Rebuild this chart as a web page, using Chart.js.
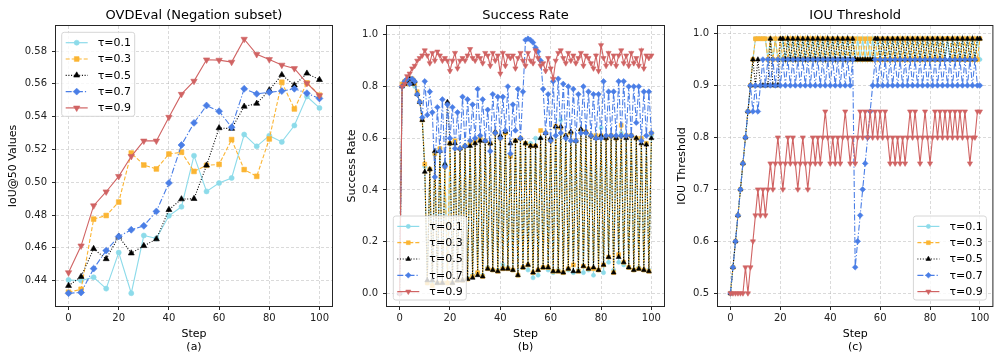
<!DOCTYPE html>
<html><head><meta charset="utf-8">
<script src="https://cdn.jsdelivr.net/npm/chart.js@4.4.1/dist/chart.umd.min.js"></script>
<style>
html,body{margin:0;padding:0;background:#fff;}
#wrap{position:relative;width:997px;height:353px;background:#fff;}
canvas{position:absolute;left:0;top:0;}
</style></head><body>
<div id="wrap">
<canvas id="cA" width="997" height="353"></canvas>
<canvas id="cB" width="997" height="353"></canvas>
<canvas id="cC" width="997" height="353"></canvas>
</div>
<script>
// ---------------- DATA ----------------
const seriesLabels = ['τ=0.1','τ=0.3','τ=0.5','τ=0.7','τ=0.9'];

// Panel (a): OVDEval (Negation subset), IoU@50 vs step
const stepsA = [0,5,10,15,20,25,30,35,40,45,50,55,60,65,70,75,80,85,90,95,100];
const iouT01 = [0.4404,0.4400,0.4420,0.4351,0.4571,0.4323,0.4675,0.4657,0.4795,0.4850,0.5162,0.4944,0.4995,0.5026,0.5291,0.5219,0.5284,0.5246,0.5346,0.5523,0.5453];
const iouT03 = [0.4329,0.4347,0.4775,0.4797,0.4879,0.5178,0.5105,0.5081,0.5172,0.5183,0.5066,0.5103,0.5109,0.5260,0.5077,0.5036,0.5264,0.5610,0.5447,0.5606,0.5531];
const iouT05 = [0.4369,0.4424,0.4594,0.4532,0.4669,0.4567,0.4612,0.4653,0.4832,0.4897,0.4899,0.5103,0.5331,0.5327,0.5462,0.5480,0.5562,0.5655,0.5592,0.5664,0.5625];
const iouT07 = [0.4323,0.4327,0.4473,0.4583,0.4669,0.4710,0.4734,0.4822,0.4995,0.5227,0.5362,0.5468,0.5433,0.5335,0.5570,0.5539,0.5549,0.5556,0.5570,0.5543,0.5511];
const iouT09 = [0.4449,0.4612,0.4857,0.4942,0.5036,0.5158,0.5252,0.5252,0.5397,0.5537,0.5617,0.5747,0.5745,0.5733,0.5873,0.5780,0.5749,0.5715,0.5694,0.5604,0.5529];

// Panels (b) and (c): per-step values
const stepsBC = [0,1,2,3,4,5,6,7,8,9,10,11,12,13,14,15,16,17,18,19,20,21,22,23,24,25,26,27,28,29,30,31,32,33,34,35,36,37,38,39,40,41,42,43,44,45,46,47,48,49,50,51,52,53,54,55,56,57,58,59,60,61,62,63,64,65,66,67,68,69,70,71,72,73,74,75,76,77,78,79,80,81,82,83,84,85,86,87,88,89,90,91,92,93,94,95,96,97,98,99,100];

const succT01 = [0,0.80,0.82,0.82,0.83,0.82,0.80,0.77,0.74,0.68,
 0.49,0.04,0.48,0.04,0.54,0.04,0.56,0.04,0.50,0.04,
 0.58,0.04,0.59,0.05,0.56,0.05,0.57,0.06,0.58,0.07,
 0.59,0.08,0.60,0.07,0.59,0.10,0.58,0.09,0.62,0.09,
 0.60,0.11,0.62,0.10,0.53,0.09,0.59,0.07,0.60,0.10,
 0.58,0.09,0.58,0.06,0.60,0.07,0.60,0.10,0.62,0.09,
 0.59,0.08,0.64,0.09,0.67,0.08,0.61,0.09,0.62,0.08,
 0.59,0.09,0.63,0.08,0.62,0.09,0.61,0.07,0.61,0.09,
 0.64,0.08,0.60,0.12,0.61,0.09,0.60,0.12,0.62,0.11,
 0.61,0.10,0.61,0.09,0.60,0.10,0.60,0.09,0.58,0.09,
 0.61];
const succT03 = [0,0.81,0.82,0.81,0.82,0.83,0.81,0.78,0.74,0.67,
 0.50,0.04,0.48,0.03,0.54,0.04,0.56,0.04,0.49,0.04,
 0.58,0.04,0.59,0.05,0.56,0.05,0.57,0.055,0.58,0.065,
 0.59,0.08,0.60,0.065,0.59,0.095,0.58,0.09,0.62,0.085,
 0.60,0.095,0.62,0.095,0.53,0.09,0.59,0.07,0.60,0.10,
 0.58,0.11,0.57,0.08,0.57,0.09,0.63,0.10,0.62,0.10,
 0.59,0.085,0.645,0.085,0.64,0.08,0.61,0.095,0.62,0.11,
 0.59,0.085,0.63,0.105,0.625,0.095,0.61,0.095,0.61,0.09,
 0.61,0.11,0.60,0.14,0.61,0.08,0.60,0.15,0.65,0.12,
 0.61,0.10,0.61,0.09,0.60,0.095,0.60,0.09,0.58,0.085,
 0.62];
const succT05 = [0,0.80,0.81,0.82,0.83,0.81,0.82,0.77,0.74,0.67,
 0.47,0.05,0.48,0.05,0.55,0.04,0.55,0.04,0.50,0.74,
 0.58,0.04,0.58,0.05,0.56,0.05,0.57,0.055,0.57,0.06,
 0.58,0.07,0.59,0.065,0.59,0.095,0.58,0.09,0.625,0.085,
 0.61,0.095,0.625,0.095,0.58,0.09,0.59,0.07,0.60,0.10,
 0.58,0.11,0.57,0.08,0.57,0.09,0.60,0.10,0.62,0.10,
 0.60,0.085,0.645,0.085,0.645,0.08,0.61,0.095,0.625,0.085,
 0.59,0.085,0.635,0.105,0.625,0.095,0.61,0.10,0.60,0.09,
 0.61,0.11,0.60,0.14,0.61,0.08,0.60,0.14,0.61,0.12,
 0.60,0.10,0.61,0.09,0.60,0.095,0.58,0.09,0.575,0.085,
 0.60];
const succT07 = [0,0.80,0.82,0.83,0.81,0.83,0.82,0.77,0.74,0.68,
 0.82,0.69,0.78,0.70,0.45,0.72,0.55,0.75,0.49,0.73,
 0.60,0.72,0.56,0.70,0.56,0.76,0.57,0.75,0.59,0.73,
 0.60,0.79,0.61,0.75,0.59,0.71,0.55,0.77,0.62,0.76,
 0.60,0.76,0.63,0.80,0.54,0.73,0.63,0.79,0.60,0.78,
 0.98,0.985,0.98,0.97,0.95,0.935,0.90,0.79,0.62,0.77,
 0.59,0.82,0.61,0.83,0.62,0.81,0.60,0.80,0.59,0.79,
 0.59,0.77,0.62,0.80,0.62,0.78,0.61,0.77,0.60,0.77,
 0.60,0.82,0.61,0.78,0.61,0.78,0.61,0.82,0.61,0.82,
 0.61,0.80,0.61,0.80,0.66,0.80,0.59,0.78,0.61,0.78,
 0.62];
const succT09 = [0,0.80,0.81,0.84,0.85,0.87,0.88,0.90,0.91,0.92,
 0.94,0.92,0.89,0.93,0.90,0.935,0.92,0.90,0.91,0.90,
 0.86,0.90,0.93,0.87,0.90,0.91,0.90,0.92,0.945,0.91,
 0.90,0.92,0.91,0.89,0.93,0.92,0.88,0.93,0.90,0.92,
 0.85,0.93,0.88,0.92,0.91,0.92,0.87,0.91,0.93,0.90,
 0.88,0.93,0.90,0.89,0.94,0.91,0.88,0.89,0.86,0.91,
 0.87,0.83,0.90,0.93,0.94,0.91,0.89,0.93,0.90,0.92,
 0.89,0.91,0.93,0.88,0.92,0.91,0.89,0.87,0.92,0.86,
 0.96,0.91,0.88,0.93,0.89,0.92,0.88,0.92,0.94,0.89,
 0.92,0.88,0.93,0.89,0.91,0.88,0.94,0.87,0.92,0.91,
 0.92];

const thrT01 = [0.50,0.55,0.60,0.65,0.70,0.75,0.80,0.85,0.90,0.95,
 0.99,0.99,0.99,0.99,0.99,0.95,0.99,0.95,0.99,0.95,
 0.95,0.99,0.95,0.99,0.95,0.99,0.95,0.99,0.95,0.99,
 0.95,0.99,0.95,0.99,0.95,0.99,0.95,0.99,0.95,0.99,
 0.95,0.99,0.95,0.99,0.95,0.99,0.95,0.99,0.95,0.99,
 0.95,0.99,0.95,0.99,0.95,0.99,0.95,0.99,0.95,0.99,
 0.95,0.99,0.95,0.99,0.95,0.99,0.95,0.99,0.95,0.99,
 0.95,0.99,0.95,0.99,0.95,0.99,0.95,0.99,0.95,0.99,
 0.95,0.99,0.95,0.99,0.95,0.99,0.95,0.99,0.95,0.99,
 0.95,0.99,0.95,0.99,0.95,0.99,0.95,0.99,0.95,0.99,
 0.95];
const thrT03 = [0.50,0.55,0.60,0.65,0.70,0.75,0.80,0.85,0.90,0.95,
 0.99,0.99,0.99,0.99,0.99,0.95,0.99,0.95,0.99,0.95,
 0.99,0.95,0.99,0.95,0.99,0.95,0.99,0.95,0.99,0.95,
 0.99,0.95,0.99,0.95,0.99,0.95,0.99,0.95,0.99,0.95,
 0.99,0.95,0.99,0.95,0.99,0.95,0.99,0.95,0.99,0.95,
 0.99,0.95,0.99,0.95,0.99,0.95,0.99,0.95,0.99,0.95,
 0.99,0.95,0.99,0.95,0.99,0.95,0.99,0.95,0.99,0.95,
 0.99,0.95,0.99,0.95,0.99,0.95,0.99,0.95,0.99,0.95,
 0.99,0.95,0.99,0.95,0.99,0.95,0.99,0.99,0.99,0.95,
 0.99,0.95,0.99,0.95,0.99,0.95,0.99,0.95,0.99,0.95,
 0.99];
const thrT05 = [0.50,0.55,0.60,0.65,0.70,0.75,0.80,0.85,0.90,0.95,
 0.90,0.95,0.90,0.90,0.90,0.90,0.99,0.90,0.90,0.90,
 0.99,0.99,0.95,0.99,0.95,0.99,0.95,0.99,0.95,0.99,
 0.95,0.99,0.95,0.99,0.95,0.99,0.95,0.99,0.95,0.99,
 0.95,0.99,0.95,0.99,0.95,0.99,0.95,0.99,0.95,0.99,
 0.95,0.95,0.95,0.95,0.95,0.95,0.95,0.95,0.99,0.99,
 0.95,0.99,0.95,0.99,0.95,0.99,0.95,0.99,0.95,0.99,
 0.95,0.99,0.95,0.99,0.95,0.99,0.95,0.99,0.95,0.99,
 0.95,0.99,0.95,0.99,0.95,0.99,0.95,0.99,0.95,0.99,
 0.95,0.99,0.95,0.99,0.95,0.99,0.95,0.99,0.95,0.99,
 0.99];
const thrT07 = [0.50,0.55,0.60,0.65,0.70,0.75,0.80,0.85,0.90,0.85,
 0.90,0.85,0.90,0.95,0.90,0.95,0.90,0.95,0.90,0.95,
 0.90,0.95,0.90,0.95,0.90,0.95,0.90,0.95,0.90,0.95,
 0.90,0.95,0.90,0.95,0.90,0.95,0.90,0.95,0.90,0.95,
 0.90,0.95,0.90,0.95,0.90,0.95,0.90,0.95,0.90,0.95,
 0.55,0.60,0.65,0.70,0.75,0.80,0.85,0.90,0.95,0.90,
 0.95,0.90,0.95,0.90,0.95,0.90,0.95,0.90,0.95,0.90,
 0.95,0.90,0.95,0.90,0.95,0.90,0.95,0.90,0.95,0.90,
 0.95,0.90,0.95,0.90,0.95,0.90,0.95,0.90,0.95,0.90,
 0.95,0.90,0.95,0.90,0.95,0.90,0.95,0.90,0.95,0.90,
 0.90];
const thrT09 = [0.50,0.50,0.50,0.50,0.50,0.50,0.55,0.50,0.55,0.60,
 0.65,0.70,0.65,0.70,0.65,0.70,0.75,0.70,0.75,0.80,
 0.75,0.70,0.75,0.80,0.75,0.80,0.75,0.70,0.75,0.80,
 0.75,0.70,0.75,0.80,0.75,0.80,0.75,0.80,0.85,0.80,
 0.75,0.80,0.75,0.80,0.75,0.80,0.85,0.80,0.75,0.80,
 0.75,0.80,0.85,0.80,0.85,0.80,0.85,0.80,0.85,0.80,
 0.85,0.80,0.85,0.80,0.75,0.80,0.75,0.80,0.75,0.80,
 0.75,0.80,0.85,0.80,0.85,0.80,0.75,0.80,0.85,0.80,
 0.75,0.80,0.85,0.80,0.85,0.80,0.85,0.80,0.85,0.80,
 0.85,0.80,0.85,0.80,0.85,0.80,0.75,0.80,0.80,0.85,
 0.85];

const xTicks = [0,20,40,60,80,100];
const xTickLabels = ['0','20','40','60','80','100'];
const yTicksA = [0.44,0.46,0.48,0.50,0.52,0.54,0.56,0.58];
const yTickLabelsA = ['0.44','0.46','0.48','0.50','0.52','0.54','0.56','0.58'];
const yTicksB = [0,0.2,0.4,0.6,0.8,1.0];
const yTickLabelsB = ['0.0','0.2','0.4','0.6','0.8','1.0'];
const yTicksC = [0.5,0.6,0.7,0.8,0.9,1.0];
const yTickLabelsC = ['0.5','0.6','0.7','0.8','0.9','1.0'];

// ---------------- STYLE ----------------
const FONT = 'DejaVu Sans';
const STY = [
  {color:'#8ddbea', dash:[],            point:'circle',   r:2.4, rot:0},
  {color:'#fbb533', dash:[4,2],         point:'rect',     r:3.2, rot:0},
  {color:'#000000', dash:[1,1.7],       point:'triangle', r:3.3, rot:0},
  {color:'#4a7ee6', dash:[6,2,1.2,2],   point:'rectRot',  r:3.3, rot:0},
  {color:'#d06363', dash:[],            point:'triangle', r:3.5, rot:180}
];

function drawMarker(ctx, s, x, y, k) {
  const r = s.r * k;
  ctx.save();
  ctx.setLineDash([]);
  ctx.fillStyle = s.color; ctx.strokeStyle = s.color; ctx.lineWidth = 0.6;
  ctx.beginPath();
  if (s.point === 'circle') { ctx.arc(x, y, r, 0, Math.PI*2); }
  else if (s.point === 'rect') { const h = r*Math.SQRT1_2; ctx.rect(x-h, y-h, 2*h, 2*h); }
  else if (s.point === 'rectRot') { ctx.moveTo(x, y-r); ctx.lineTo(x+r, y); ctx.lineTo(x, y+r); ctx.lineTo(x-r, y); ctx.closePath(); }
  else if (s.point === 'triangle') {
    let a = (s.rot*Math.PI/180) - Math.PI/2;
    for (let i=0;i<3;i++){ const px=x+Math.cos(a)*r, py=y+Math.sin(a)*r; if(i===0) ctx.moveTo(px,py); else ctx.lineTo(px,py); a += 2*Math.PI/3; }
    ctx.closePath();
  }
  ctx.fill(); ctx.stroke();
  ctx.restore();
}

const decoPlugin = {
  id: 'deco',
  afterDatasetsDraw(chart, args, opts) {
    const ctx = chart.ctx, ca = chart.chartArea;
    ctx.save();
    // frame
    ctx.setLineDash([]);
    ctx.strokeStyle = '#262626'; ctx.lineWidth = 1;
    ctx.strokeRect(ca.left - 0.5, ca.top - 0.5, ca.right - ca.left + 1, ca.bottom - ca.top + 1);
    // title
    ctx.fillStyle = '#000'; ctx.font = '13px "' + FONT + '"';
    ctx.textAlign = 'center'; ctx.textBaseline = 'middle';
    ctx.fillText(opts.title, (ca.left + ca.right)/2, 15.5);
    // legend
    const w = 73, h = 84;
    let lx, ly;
    if (opts.corner === 'tl') { lx = ca.left + opts.dx; ly = ca.top + opts.dy; }
    else if (opts.corner === 'bl') { lx = ca.left + opts.dx; ly = ca.bottom - opts.dy - h; }
    else { lx = ca.right - opts.dx - w; ly = ca.bottom - opts.dy - h; }
    ctx.beginPath();
    const rr = 2.5;
    ctx.moveTo(lx+rr, ly); ctx.lineTo(lx+w-rr, ly); ctx.quadraticCurveTo(lx+w, ly, lx+w, ly+rr);
    ctx.lineTo(lx+w, ly+h-rr); ctx.quadraticCurveTo(lx+w, ly+h, lx+w-rr, ly+h);
    ctx.lineTo(lx+rr, ly+h); ctx.quadraticCurveTo(lx, ly+h, lx, ly+h-rr);
    ctx.lineTo(lx, ly+rr); ctx.quadraticCurveTo(lx, ly, lx+rr, ly); ctx.closePath();
    ctx.fillStyle = 'rgba(255,255,255,0.8)'; ctx.fill();
    ctx.strokeStyle = '#d6d6d6'; ctx.lineWidth = 1; ctx.stroke();
    chart.data.datasets.forEach((ds, i) => {
      const s = STY[i];
      const y = ly + 10.4 + i*16.3;
      ctx.save();
      ctx.strokeStyle = s.color; ctx.lineWidth = 1.2; ctx.setLineDash(s.dash);
      ctx.beginPath(); ctx.moveTo(lx+4, y); ctx.lineTo(lx+26, y); ctx.stroke();
      ctx.restore();
      drawMarker(ctx, s, lx+15, y, opts.mk);
      ctx.fillStyle = '#000'; ctx.font = '11px "' + FONT + '"';
      ctx.textAlign = 'left'; ctx.textBaseline = 'middle';
      ctx.fillText(ds.label, lx+36, y + 0.5);
    });
    ctx.restore();
  }
};

function buildChart(id, p) {
  const datasets = p.series.map((arr, i) => ({
    label: seriesLabels[i],
    data: arr.map((v, j) => ({x: p.xs[j], y: v})),
    borderColor: STY[i].color,
    backgroundColor: STY[i].color,
    borderWidth: 1.1,
    borderDash: STY[i].dash,
    pointStyle: STY[i].point,
    pointRadius: STY[i].r * p.mk,
    pointRotation: STY[i].rot,
    pointBackgroundColor: STY[i].color,
    pointBorderColor: STY[i].color,
    pointBorderWidth: 0.6,
    tension: 0,
    fill: false,
    order: 4 - i
  }));
  const tickFont = {family: FONT, size: 10};
  const gridCommon = {color: 'rgba(170,170,170,0.55)', lineWidth: 0.8, tickColor: '#262626', tickLength: 4, tickWidth: 1, tickBorderDash: []};
  return new Chart(document.getElementById(id), {
    type: 'line',
    data: {datasets},
    options: {
      responsive: false, animation: false, devicePixelRatio: 1,
      layout: {padding: {left: p.padL, right: p.padR, top: 26, bottom: 0}},
      plugins: {legend: {display: false}, tooltip: {enabled: false}, title: {display: false},
        deco: {title: p.title, corner: p.corner, dx: p.ldx, dy: p.ldy, mk: p.mk}},
      scales: {
        x: {
          type: 'linear', min: -5, max: 105,
          afterBuildTicks: s => { s.ticks = xTicks.map(v => ({value: v})); },
          afterFit: s => { s.height = 47; },
          ticks: {font: tickFont, color: '#222', padding: 2, maxRotation: 0, autoSkip: false,
                  callback: (v, i) => xTickLabels[i]},
          grid: gridCommon,
          border: {display: false, dash: [3, 2]},
          title: {display: true, text: ['Step', p.sub], font: {family: FONT, size: 11, lineHeight: 1.15}, color: '#000', padding: {top: 0, bottom: 0}}
        },
        y: {
          type: 'linear', min: p.ymin, max: p.ymax,
          afterBuildTicks: s => { s.ticks = p.yTicks.map(v => ({value: v})); },
          afterFit: s => { s.width = p.yW; },
          ticks: {font: tickFont, color: '#222', padding: 5, autoSkip: false,
                  callback: (v, i) => p.yLabels[i]},
          grid: gridCommon,
          border: {display: false, dash: [3, 2]},
          title: {display: true, text: p.ylabel, font: {family: FONT, size: 11, lineHeight: 1.2}, color: '#000', padding: {top: p.yTitlePad, bottom: 0}}
        }
      }
    },
    plugins: [decoPlugin]
  });
}

buildChart('cA', {
  xs: stepsA, series: [iouT01, iouT03, iouT05, iouT07, iouT09],
  padL: 0, padR: 665, yW: 56, yTitlePad: 6.4,
  ymin: 0.4245, ymax: 0.5953, yTicks: yTicksA, yLabels: yTickLabelsA,
  title: 'OVDEval (Negation subset)', ylabel: 'IoU@50 Values', sub: '(a)',
  corner: 'tl', ldx: 5.7, ldy: 6.3, mk: 1.05
});
buildChart('cB', {
  xs: stepsBC, series: [succT01, succT03, succT05, succT07, succT09],
  padL: 335, padR: 333, yW: 52, yTitlePad: 10.1,
  ymin: -0.049, ymax: 1.034, yTicks: yTicksB, yLabels: yTickLabelsB,
  title: 'Success Rate', ylabel: 'Success Rate', sub: '(b)',
  corner: 'bl', ldx: 6.3, ldy: 6, mk: 0.85
});
buildChart('cC', {
  xs: stepsBC, series: [thrT01, thrT03, thrT05, thrT07, thrT09],
  padL: 670, padR: 1, yW: 48, yTitlePad: 5.7,
  ymin: 0.4755, ymax: 1.0145, yTicks: yTicksC, yLabels: yTickLabelsC,
  title: 'IOU Threshold', ylabel: 'IOU Threshold', sub: '(c)',
  corner: 'br', ldx: 6, ldy: 6, mk: 0.85
});
</script>
</body></html>
